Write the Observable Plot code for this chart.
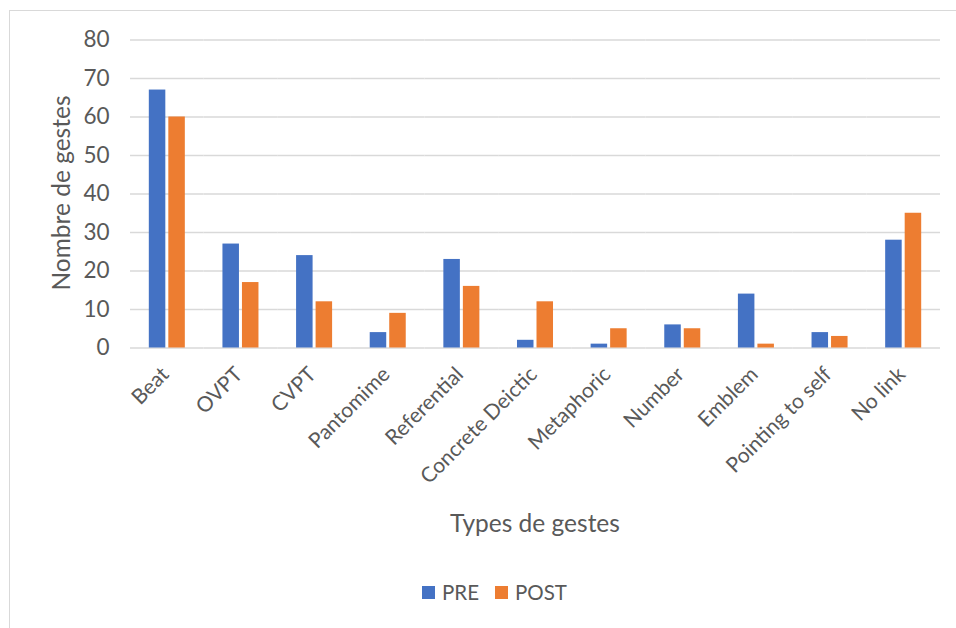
<!DOCTYPE html>
<html>
<head>
<meta charset="utf-8">
<script src="https://cdn.jsdelivr.net/npm/d3@7"></script>
<script src="https://cdn.jsdelivr.net/npm/@observablehq/plot@0.6"></script>
<style>
  html, body { margin: 0; padding: 0; background: #fff; }
  body { width: 956px; height: 628px; overflow: hidden; position: relative; font-family: Lato, "Open Sans", sans-serif; color: #595959; }
  #frame { position: absolute; left: 9px; top: 10px; width: 960px; height: 640px; border: 1px solid #d9d9d9; box-sizing: border-box; }
  #chart { position: absolute; left: 0; top: 0; }
  #ytitle { position: absolute; left: 60px; top: 193px; transform: translate(-50%, -50%) rotate(-90deg); font-size: 24.5px; white-space: nowrap; }
  #xtitle { position: absolute; left: 535px; top: 522px; transform: translate(-50%, -50%); font-size: 24.5px; white-space: nowrap; }
  #legend { position: absolute; left: 422px; top: 580px; display: flex; align-items: center; font-size: 20.5px; white-space: nowrap; }
  #legend .sw { display: inline-block; width: 13px; height: 13px; margin-right: 7px; }
  #legend .item { display: flex; align-items: center; margin-right: 16px; }
</style>
</head>
<body>
<div id="frame"></div>
<div id="chart"></div>
<div id="ytitle">Nombre de gestes</div>
<div id="xtitle">Types de gestes</div>
<div id="legend"></div>
<script>
const categories = ["Beat", "OVPT", "CVPT", "Pantomime", "Referential", "Concrete Deictic", "Metaphoric", "Number", "Emblem", "Pointing to self", "No link"];
const seriesNames = ["PRE", "POST"];
const preValues = [67, 27, 24, 4, 23, 2, 1, 6, 14, 4, 28];
const postValues = [60, 17, 12, 9, 16, 12, 5, 5, 1, 3, 35];
const yTicks = [0, 10, 20, 30, 40, 50, 60, 70, 80];
const colors = ["#4472C4", "#ED7D31"];

const data = [];
categories.forEach((c, i) => {
  data.push({cat: c, series: "PRE", value: preValues[i]});
  data.push({cat: c, series: "POST", value: postValues[i]});
});

const chart = Plot.plot({
  width: 956,
  height: 560,
  marginLeft: 130,
  marginRight: 16,
  marginTop: 39.5,
  marginBottom: 212.5,
  style: { fontFamily: "Lato, 'Open Sans', sans-serif", fontSize: "21px", color: "#595959", background: "transparent", overflow: "visible" },
  fx: { domain: categories, padding: 0, round: false, label: null, axis: null },
  x: { domain: seriesNames, paddingInner: 0.154, paddingOuter: 0.964, round: false, axis: null },
  y: { domain: [0, 80], ticks: yTicks, label: null, axis: null },
  color: { domain: seriesNames, range: colors },
  marks: [
    Plot.ruleY(yTicks, { stroke: "#d9d9d9", strokeWidth: 1.5 }),
    Plot.barY(data, { fx: "cat", x: "series", y: "value", fill: "series" }),
    Plot.axisY({ anchor: "left", ticks: yTicks, tickSize: 0, tickPadding: 21, label: null, fontSize: 22.5 }),
    Plot.axisFx({ anchor: "bottom", tickSize: 0, tickPadding: 23, tickRotate: -45, label: null, dx: -2, fontSize: 21 })
  ]
});
document.getElementById("chart").appendChild(chart);

const legend = document.getElementById("legend");
seriesNames.forEach((s, i) => {
  const item = document.createElement("span");
  item.className = "item";
  const sw = document.createElement("span");
  sw.className = "sw";
  sw.style.background = colors[i];
  item.appendChild(sw);
  item.appendChild(document.createTextNode(s));
  legend.appendChild(item);
});
</script>
</body>
</html>
